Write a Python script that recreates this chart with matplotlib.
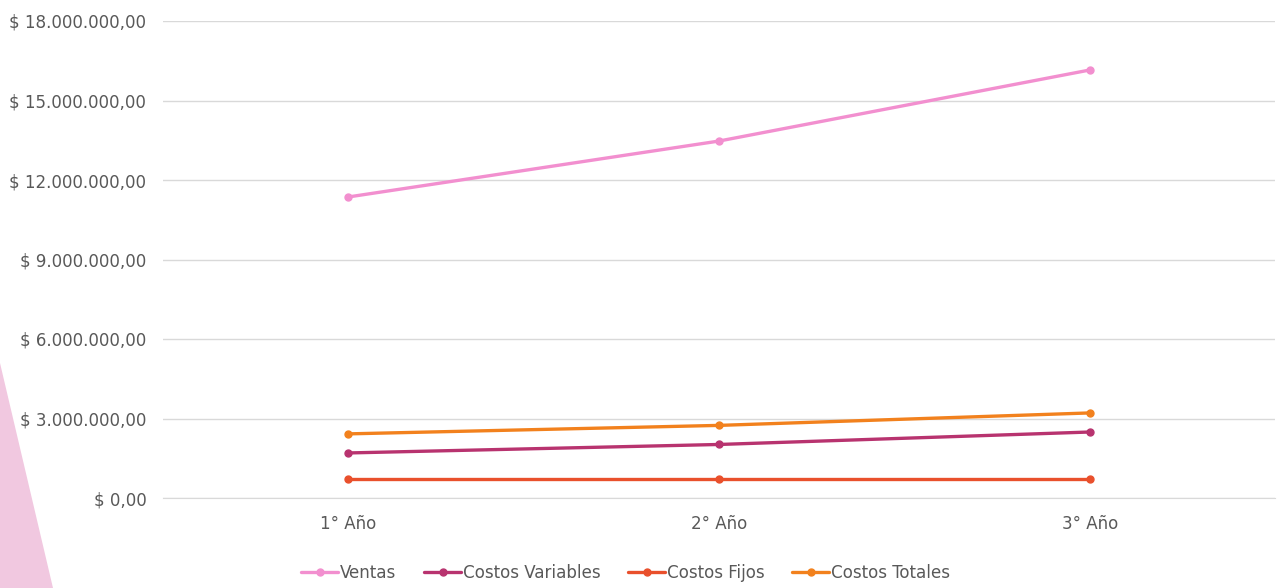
import numpy as np
import matplotlib
matplotlib.use("Agg")
import matplotlib.pyplot as plt
from matplotlib.patches import Polygon
from matplotlib.ticker import FuncFormatter

anios = ["1° Año", "2° Año", "3° Año"]
ventas = [11_360_000, 13_470_000, 16_150_000]
costos_variables = [1_700_000, 2_020_000, 2_490_000]
costos_fijos = [720_000, 720_000, 720_000]
costos_totales = [2_420_000, 2_740_000, 3_210_000]

series = [
    ("Ventas", ventas, "#F28FCF"),
    ("Costos Variables", costos_variables, "#B8336F"),
    ("Costos Fijos", costos_fijos, "#E9502C"),
    ("Costos Totales", costos_totales, "#F2811D"),
]

gris = "#595959"
plt.rcParams["font.family"] = ["DejaVu Sans"]
plt.rcParams["font.stretch"] = "condensed"

fig = plt.figure(figsize=(12.77, 5.88), dpi=100)

# triangulo decorativo en la esquina inferior izquierda
tri = Polygon([(0, 0), (0, 225 / 588), (53 / 1277, 0)], closed=True,
              transform=fig.transFigure, facecolor="#F1C8E0", edgecolor="none", zorder=0)
fig.patches.append(tri)

ax = fig.add_axes([163 / 1277, 1 - 498 / 588, 1112 / 1277, 477 / 588])
ax.set_facecolor("none")

x = np.arange(len(anios))
for nombre, valores, color in series:
    ax.plot(x, valores, color=color, lw=2.4, marker="o", ms=5, label=nombre,
            solid_capstyle="round")

ax.set_xlim(-0.5, len(anios) - 0.5)
ax.set_ylim(0, 18_000_000)
ax.set_yticks(np.arange(0, 18_000_001, 3_000_000))


def pesos(v, pos):
    s = f"{v:,.2f}".replace(",", "X").replace(".", ",").replace("X", ".")
    return f"$ {s}"


ax.yaxis.set_major_formatter(FuncFormatter(pesos))
ax.set_xticks(x)
ax.set_xticklabels(anios)
ax.grid(axis="y", color="#D9D9D9", lw=1)
ax.set_axisbelow(True)
for lado in ["top", "right", "left"]:
    ax.spines[lado].set_visible(False)
ax.spines["bottom"].set_color("#D9D9D9")
ax.tick_params(axis="both", length=0, colors=gris, labelsize=13.3)
ax.tick_params(axis="y", pad=12)
ax.tick_params(axis="x", pad=12)

fig.legend(loc="center", bbox_to_anchor=(0.49, 1 - 573 / 588), ncol=4, frameon=False,
           fontsize=13.3, labelcolor=gris, handlelength=2.0, handletextpad=0.1,
           columnspacing=1.5)

fig.savefig("out.png", dpi=100)
